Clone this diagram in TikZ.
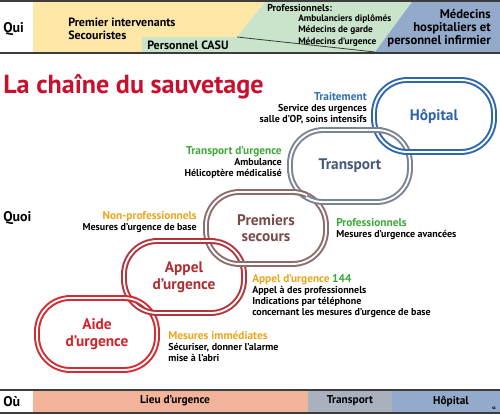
\documentclass[tikz,border=0pt]{standalone}
\usepackage{fontspec}
\setmainfont{PT Sans}
\usetikzlibrary{positioning}
\definecolor{jaune}{HTML}{FDE7A6}
\definecolor{vertp}{HTML}{C9E4CB}
\definecolor{bleup}{HTML}{94AACB}
\definecolor{saumon}{HTML}{F3B29A}
\definecolor{grisb}{HTML}{AAB1BE}
\definecolor{filet}{HTML}{3C3C3C}
\definecolor{titre}{HTML}{C8102E}
\definecolor{aide}{HTML}{D42A31}
\definecolor{appel}{HTML}{B3353A}
\definecolor{secours}{HTML}{8E6B6C}
\definecolor{transp}{HTML}{7B8493}
\definecolor{hopital}{HTML}{2D68AE}
\definecolor{aidet}{HTML}{D2232A}
\definecolor{appelt}{HTML}{AE2E31}
\definecolor{secourst}{HTML}{7A4B4A}
\definecolor{transpt}{HTML}{455879}
\definecolor{hopitalt}{HTML}{2B62A8}
\definecolor{bleut}{HTML}{2F6DB5}
\definecolor{ambre}{HTML}{E9A51C}
\definecolor{vert}{HTML}{3BA935}
\newcommand{\lbl}[2]{{\fontsize{8.5}{8.4}\selectfont\color{#1}#2}}

\begin{document}
\begin{tikzpicture}[x=0.75pt, y=-0.75pt,
  link/.style={rectangle, draw, double=white, line width=1.5pt, double distance=1.4pt, rounded corners=25pt, minimum width=90pt, minimum height=54pt, inner sep=0pt, align=center, font=\fontsize{11.5}{12.5}\selectfont\bfseries},
  rowhead/.style={inner sep=0pt, anchor=base west, font=\fontsize{10.5}{12}\selectfont\bfseries},
  who/.style={inner sep=0pt, font=\fontsize{9}{9.3}\selectfont\bfseries},
  note/.style={inner sep=0pt, font=\fontsize{7.5}{8.4}\selectfont\bfseries},
  where/.style={inner sep=0pt, font=\fontsize{8.5}{10}\selectfont\bfseries},
  rule/.style={draw=filet, line width=1.8pt}]
\useasboundingbox (0,0) rectangle (500,414);

% bandeau Qui
\fill[jaune] (33,2) -- (265,2) -- (237,37) -- (142,37) -- (142,52) -- (33,52) -- cycle;
\fill[vertp] (142,37) -- (237,37) -- (265,2) -- (412,2) -- (375,52) -- (142,52) -- cycle;
\fill[bleup] (412,2) -- (500,2) -- (500,52) -- (375,52) -- cycle;
\draw[filet, line width=0.6pt] (237,37) -- (375,52);
\draw[rule] (0,1) -- (500,1);
\draw[rule] (0,53) -- (500,53);

% bandeau Ou
\fill[saumon] (33,391) rectangle (308,412);
\fill[grisb] (308,391) rectangle (392,412);
\fill[bleup] (392,391) rectangle (500,412);
\draw[rule] (0,390) -- (500,390);
\draw[rule] (0,413) -- (500,413);

\node[rowhead] (qui) at (3,32) {Qui};
\node[rowhead] (quoi) at (3,221) {Quoi};
\node[rowhead] (ou) at (3,406) {Où};

\node[inner sep=0pt, anchor=base west, text=titre, font=\fontsize{19.6}{21}\selectfont\bfseries] (titre) at (3,93) {La chaîne du sauvetage};

% qui
\node[who, anchor=north west, align=left] (secouristes) at (68,18) {Premier intervenants\\Secouristes};
\node[who, anchor=north west] (casu) at (147,41) {Personnel CASU};
\node[note, anchor=north west] (profs) at (267,4) {Professionnels:};
\node[note, anchor=north west, align=left, font=\fontsize{7}{8.6}\selectfont\bfseries] (ambul) at (298,14) {Ambulanciers diplômés\\Médecins de garde\\Médecins d'urgence};
\node[who, anchor=north east, align=right, font=\fontsize{9.5}{9.8}\selectfont\bfseries] (medecins) at (491,9) {Médecins\\hospitaliers et\\personnel infirmier};

% chaine
\node[link, draw=aide, text=aidet] (aide) at (97,334) {Aide\\d’urgence};
\node[link, draw=appel, text=appelt] (appel) at (184,277) {Appel\\d’urgence};
\node[link, draw=secours, text=secourst] (secours) at (266,228) {Premiers\\secours};
\node[link, draw=transp, text=transpt] (transport) at (350,166) {Transport};
\node[link, draw=hopital, text=hopitalt] (hopital) at (434,116) {Hôpital};
\foreach \n/\c/\p in {aide/aide/{130,298}, appel/appel/{208,241}, secours/secours/{300,193}, transport/transp/{376,130}}
  {\begin{scope}
     \clip (\p) circle[radius=5.5pt];
     \node[link, draw=\c] at (\n.center) {};
   \end{scope}}

% quoi
\node[note, anchor=north east, align=right] (traitement) at (367,92) {\lbl{bleut}{Traitement}\\Service des urgences\\salle d’OP, soins intensifs};
\node[note, anchor=north east, align=right] (urgtransp) at (282,146) {\lbl{vert}{Transport d’urgence}\\Ambulance\\Hélicoptère médicalisé};
\node[note, anchor=north east, align=right] (nonpro) at (197,211) {\lbl{ambre}{Non-professionnels}\\Mesures d’urgence de base};
\node[note, anchor=north west, align=left] (pro) at (336,218) {\lbl{vert}{Professionnels}\\Mesures d’urgence avancées};
\node[note, anchor=north west, align=left] (appel144) at (252,274) {\lbl{ambre}{Appel d’urgence} \lbl{vert}{144}\\Appel à des professionnels\\Indications par téléphone\\concernant les mesures d’urgence de base};
\node[note, anchor=north west, align=left] (immediat) at (168,331) {\lbl{ambre}{Mesures immédiates}\\Sécuriser, donner l’alarme\\mise à l’abri};

% ou
\node[where] (lieu) at (175,401) {Lieu d’urgence};
\node[where] (transb) at (350,401) {Transport};
\node[where] (hopb) at (451,401) {Hôpital};
\node[inner sep=0pt, font=\fontsize{3.5}{4}\selectfont\bfseries] (sigle) at (494,408) {sc};
\end{tikzpicture}
\end{document}
